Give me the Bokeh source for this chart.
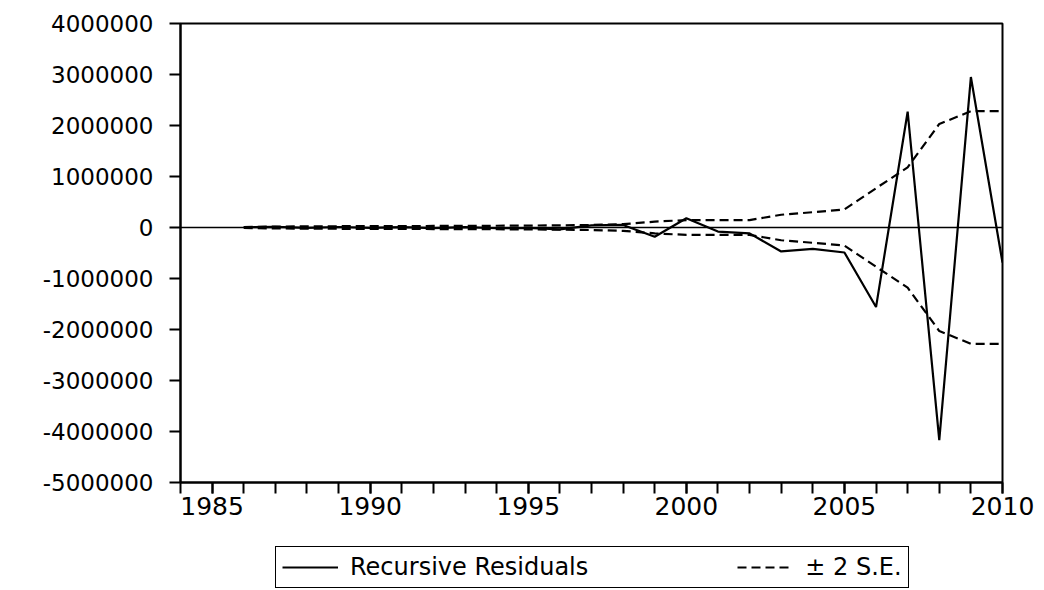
from bokeh.plotting import figure
from bokeh.layouts import column
from bokeh.models import Span, Legend, LegendItem, FixedTicker, Range1d
from bokeh.embed import file_html
from bokeh.resources import INLINE

# ---- data ----
years = list(range(1986, 2011))
resid = [5000, 12000, -8000, 10000, -6000, 9000, -12000, 7000, -15000, -10000,
         -35000, 40000, 50000, -180000, 180000, -80000, -115000, -470000,
         -420000, -490000, -1560000, 2270000, -4170000, 2950000, -690000]
se2 = [10000, 18000, 22000, 25000, 27000, 28000, 30000, 32000, 34000, 38000,
       42000, 50000, 66000, 115000, 145000, 145000, 145000, 250000, 300000,
       355000, 770000, 1180000, 2030000, 2280000, 2280000]
upper = [v for v in se2]
lower = [-v for v in se2]

x_major = [1985, 1990, 1995, 2000, 2005, 2010]
x_minor = list(range(1984, 2011))
y_ticks = [-5000000, -4000000, -3000000, -2000000, -1000000, 0,
           1000000, 2000000, 3000000, 4000000]
y_labels = {v: str(v) for v in y_ticks}
legend_labels = ["Recursive Residuals", "\u00b1 2 S.E."]

FONT = "DejaVu Sans"
DASH = "9 5"

p = figure(width=1040, height=530, output_backend="svg", toolbar_location=None,
           x_range=Range1d(1984, 2010), y_range=Range1d(-5000000, 4000000),
           min_border_left=180, min_border_right=38, min_border_top=23,
           min_border_bottom=48)
p.grid.visible = False
p.outline_line_color = "black"
p.outline_line_width = 2
p.outline_line_alpha = 1
p.background_fill_color = "white"
p.border_fill_color = "white"

# axes
p.xaxis.ticker = FixedTicker(ticks=x_major, minor_ticks=x_minor)
p.xaxis.major_tick_out = 11
p.xaxis.major_tick_in = 0
p.xaxis.minor_tick_out = 11
p.xaxis.minor_tick_in = 0
p.xaxis.minor_tick_line_width = 2
p.xaxis.major_tick_line_width = 2
p.xaxis.axis_line_width = 2
p.xaxis.major_label_standoff = 3
p.xaxis.major_label_text_font = FONT
p.xaxis.major_label_text_font_size = "25px"
p.xaxis.major_label_text_color = "black"

p.yaxis.ticker = FixedTicker(ticks=y_ticks, minor_ticks=[])
p.yaxis.major_label_overrides = y_labels
p.yaxis.major_tick_out = 11
p.yaxis.major_tick_in = 0
p.yaxis.major_tick_line_width = 2
p.yaxis.minor_tick_line_color = None
p.yaxis.axis_line_width = 2
p.yaxis.major_label_standoff = 16
p.yaxis.major_label_text_font = FONT
p.yaxis.major_label_text_font_size = "23px"
p.yaxis.major_label_text_color = "black"

# zero line
p.add_layout(Span(location=0, dimension="width", line_color="black", line_width=1.5))

p.line(years, resid, line_color="black", line_width=2.2)
p.line(years, upper, line_color="black", line_width=2.2, line_dash=DASH)
p.line(years, lower, line_color="black", line_width=2.2, line_dash=DASH)

# ---- legend strip below the chart (its frame is aligned with the chart's) ----
q = figure(width=1040, height=60, output_backend="svg", toolbar_location=None,
           x_range=Range1d(1984, 2010), y_range=Range1d(9000000, 9000001),
           x_axis_type=None, y_axis_type=None,
           min_border_left=180, min_border_right=38, min_border_top=0, min_border_bottom=0)
q.grid.visible = False
q.outline_line_color = None
q.background_fill_color = "white"
q.border_fill_color = "white"
# same series, outside this strip's visible range: they only supply the legend keys
k_res = q.line(years, resid, line_color="black", line_width=2)
k_se = q.line(years, upper, line_color="black", line_width=2, line_dash=DASH)

legend = Legend(items=[LegendItem(label=legend_labels[0], renderers=[k_res]),
                       LegendItem(label=legend_labels[1], renderers=[k_se])],
                orientation="horizontal", location=(95, 2))
legend.border_line_color = "black"
legend.border_line_alpha = 1
legend.border_line_width = 1.5
legend.background_fill_color = "white"
legend.background_fill_alpha = 1
legend.label_text_font = FONT
legend.label_text_font_size = "24px"
legend.label_text_color = "black"
legend.glyph_width = 56
legend.glyph_height = 20
legend.label_standoff = 12
legend.spacing = 149
legend.padding = 6
legend.margin = 0
q.add_layout(legend, "center")

layout = column(p, q, spacing=0)
open("out.html", "w").write(file_html(layout, INLINE))
